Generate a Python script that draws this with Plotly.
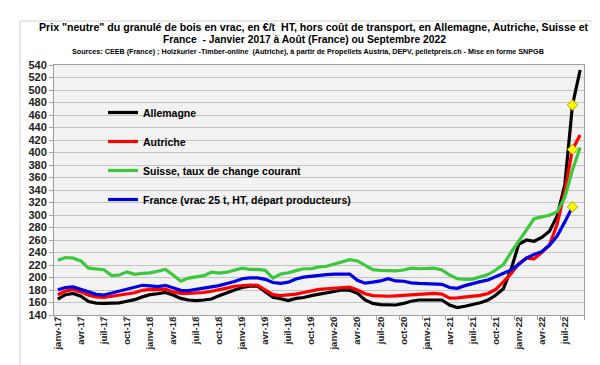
import plotly.graph_objects as go

# ---------------- data ----------------
month_abbr = ["janv", "févr", "mars", "avr", "mai", "juin",
              "juil", "août", "sept", "oct", "nov", "déc"]
years = ["17", "18", "19", "20", "21", "22"]
months = [f"{m}-{y}" for y in years for m in month_abbr][:69]  # janv-17 .. sept-22
tick_labels = months[::3]

allemagne = [165.5, 172.5, 174.5, 170, 161.5, 159, 158.5, 158.5, 159.5, 162, 164.5, 169,
             172.5, 174, 176, 172, 166.5, 164, 163, 164, 165.5, 171, 176, 180,
             184, 186, 186, 178, 168.5, 166, 163, 166.5, 168, 171, 173.5, 175.5,
             178, 180, 179.5, 175, 164, 158.5, 156.5, 156, 156, 158.5, 162, 164,
             164, 165, 164, 156, 152, 154, 156.5, 159.5, 164, 171.5, 182, 213,
             253, 260, 258, 264, 274, 298, 348, 476, 532]
autriche = [172.5, 178.5, 181, 177, 171.5, 169, 168, 170, 171, 173, 175.5, 179.5,
            181, 180.5, 181.5, 177, 174.5, 174.5, 175, 176, 178, 180, 183, 186,
            187, 188, 187.5, 180, 172.5, 171, 172, 173.5, 176, 179, 181, 182,
            183, 184.5, 184.5, 180, 174, 171, 170, 170, 170.5, 171.5, 172, 172.5,
            173.5, 174.5, 173.5, 167, 167.5, 168.5, 170, 171.5, 174.5, 181, 193, 206,
            222, 231, 230, 240, 252, 285, 338, 405, 428]
suisse = [227.5, 232, 231, 226.5, 215, 214, 212.5, 203, 204, 209, 205, 206.5,
          207.5, 210, 213, 204, 194, 199, 200.5, 203, 208.5, 207, 208.5, 211.5,
          215, 213, 213, 211.5, 199, 205.5, 207.5, 211, 214, 214, 217, 218,
          221.5, 226, 228.5, 226.5, 219.5, 212.5, 211.5, 211.5, 210.5, 212, 215, 214,
          215, 215, 212, 204, 198, 197, 197.5, 201, 204.6, 212, 220.5, 240,
          258, 277, 294, 297, 299.5, 305, 328, 372, 408]
france = [180.5, 184, 185, 181, 176, 173, 172, 175, 178.5, 182, 185, 187.5,
          186.5, 185.5, 187.5, 183, 179.5, 179, 181, 182, 184.5, 187, 190.5, 193.5,
          198, 199.5, 199.5, 197, 192, 190.5, 192.5, 197.5, 200.5, 202, 204, 204.5,
          205.5, 206, 205.5, 195.5, 191, 192.5, 194.5, 198, 194.5, 194, 191.5, 190.5,
          190, 190.5, 189, 184, 182.7, 187, 190.7, 193.4, 196, 201.4, 205.6, 212,
          221, 231, 237, 241.3, 251.5, 266.4, 289, 313]  # janv-17 .. août-22

series = [
    ("Allemagne", allemagne, "#000000"),
    ("Autriche", autriche, "#ff0000"),
    ("Suisse, taux de change courant", suisse, "#3cc83c"),
    ("France (vrac 25 t, HT, départ producteurs)", france, "#0000e6"),
]

# highlighted month (août-22): last France value
hl_index = len(france) - 1
hl_values = [allemagne[hl_index], autriche[hl_index], france[hl_index]]

FONT = "Liberation Sans, Arial, sans-serif"

fig = go.Figure()
for i, (name, vals, col) in enumerate(series):
    fig.add_trace(go.Scatter(
        x=list(range(len(vals))), y=vals, mode="lines", name=name,
        text=months[:len(vals)], hovertemplate="%{text}: %{y}<extra>" + name + "</extra>",
        line=dict(color=col, width=3.2), legendgroup=f"g{i}",
    ))

fig.add_trace(go.Scatter(
    x=[hl_index] * len(hl_values), y=hl_values, mode="markers",
    marker=dict(symbol="diamond", size=8, color="#ffff00",
                line=dict(color="#b8a000", width=1)),
    showlegend=False, hoverinfo="skip",
))

L, R, T, B = 46, 24, 57, 58
W, H = 600, 365
pw, ph = W - L - R, H - T - B

def px_x(p):
    return (p - L) / pw

def px_y(p):
    return (H - B - p) / ph

fig.update_layout(
    width=W, height=H,
    margin=dict(l=L, r=R, t=T, b=B),
    paper_bgcolor="white",
    plot_bgcolor="#f2f2f2",
    font=dict(family=FONT, color="#000000"),
    showlegend=True,
    legend=dict(
        x=px_x(95), y=px_y(90), xanchor="left", yanchor="top",
        bgcolor="rgba(0,0,0,0)", tracegroupgap=10, itemwidth=30,
        font=dict(size=10.5, family=FONT, weight="bold"),
    ),
    xaxis=dict(
        range=[-0.5, len(months) - 0.5],
        tickmode="array", tickvals=list(range(0, len(months), 3)), ticktext=tick_labels,
        tickangle=-90, ticks="", ticklabelstandoff=-3,
        minor=dict(tick0=-0.5, dtick=3, ticks="outside", ticklen=4,
                   tickcolor="#a0a0a0", showgrid=False),
        tickfont=dict(size=9.5, family=FONT, color="#222222", weight="bold"),
        showgrid=False, showline=True, linecolor="#a0a0a0", linewidth=1,
        mirror=True, zeroline=False,
    ),
    yaxis=dict(
        range=[140, 540], dtick=20, tick0=140,
        ticks="outside", ticklen=4, tickcolor="#a0a0a0",
        tickfont=dict(size=11, family=FONT, color="#222222", weight="bold"),
        showgrid=True, gridcolor="#c4c4c4", gridwidth=1,
        showline=True, linecolor="#a0a0a0", linewidth=1, mirror=True,
        zeroline=False,
    ),
    shapes=[dict(
        type="rect", xref="paper", yref="paper",
        x0=px_x(12), x1=px_x(592), y0=px_y(358), y1=px_y(13),
        line=dict(color="#d0d0d0", width=1), fillcolor="rgba(0,0,0,0)",
        layer="below",
    )],
    annotations=[
        dict(text='Prix "neutre" du granulé de bois en vrac, en €/t  HT, hors coût de transport, en Allemagne, Autriche, Suisse et',
             x=px_x(306), y=px_y(19), xref="paper", yref="paper",
             xanchor="center", yanchor="middle", showarrow=False,
             font=dict(size=10.6, family=FONT, weight="bold")),
        dict(text="France  - Janvier 2017 à Août (France) ou Septembre 2022",
             x=px_x(296), y=px_y(31.5), xref="paper", yref="paper",
             xanchor="center", yanchor="middle", showarrow=False,
             font=dict(size=10.3, family=FONT, weight="bold")),
        dict(text="Sources: CEEB (France) ; Holzkurier -Timber-online  (Autriche), à partir de Propellets Austria, DEPV, pelletpreis.ch - Mise en forme SNPGB",
             x=px_x(300), y=px_y(44), xref="paper", yref="paper",
             xanchor="center", yanchor="middle", showarrow=False,
             font=dict(size=7.2, family=FONT, weight="bold")),
    ],
)

fig.write_html("out.html")
